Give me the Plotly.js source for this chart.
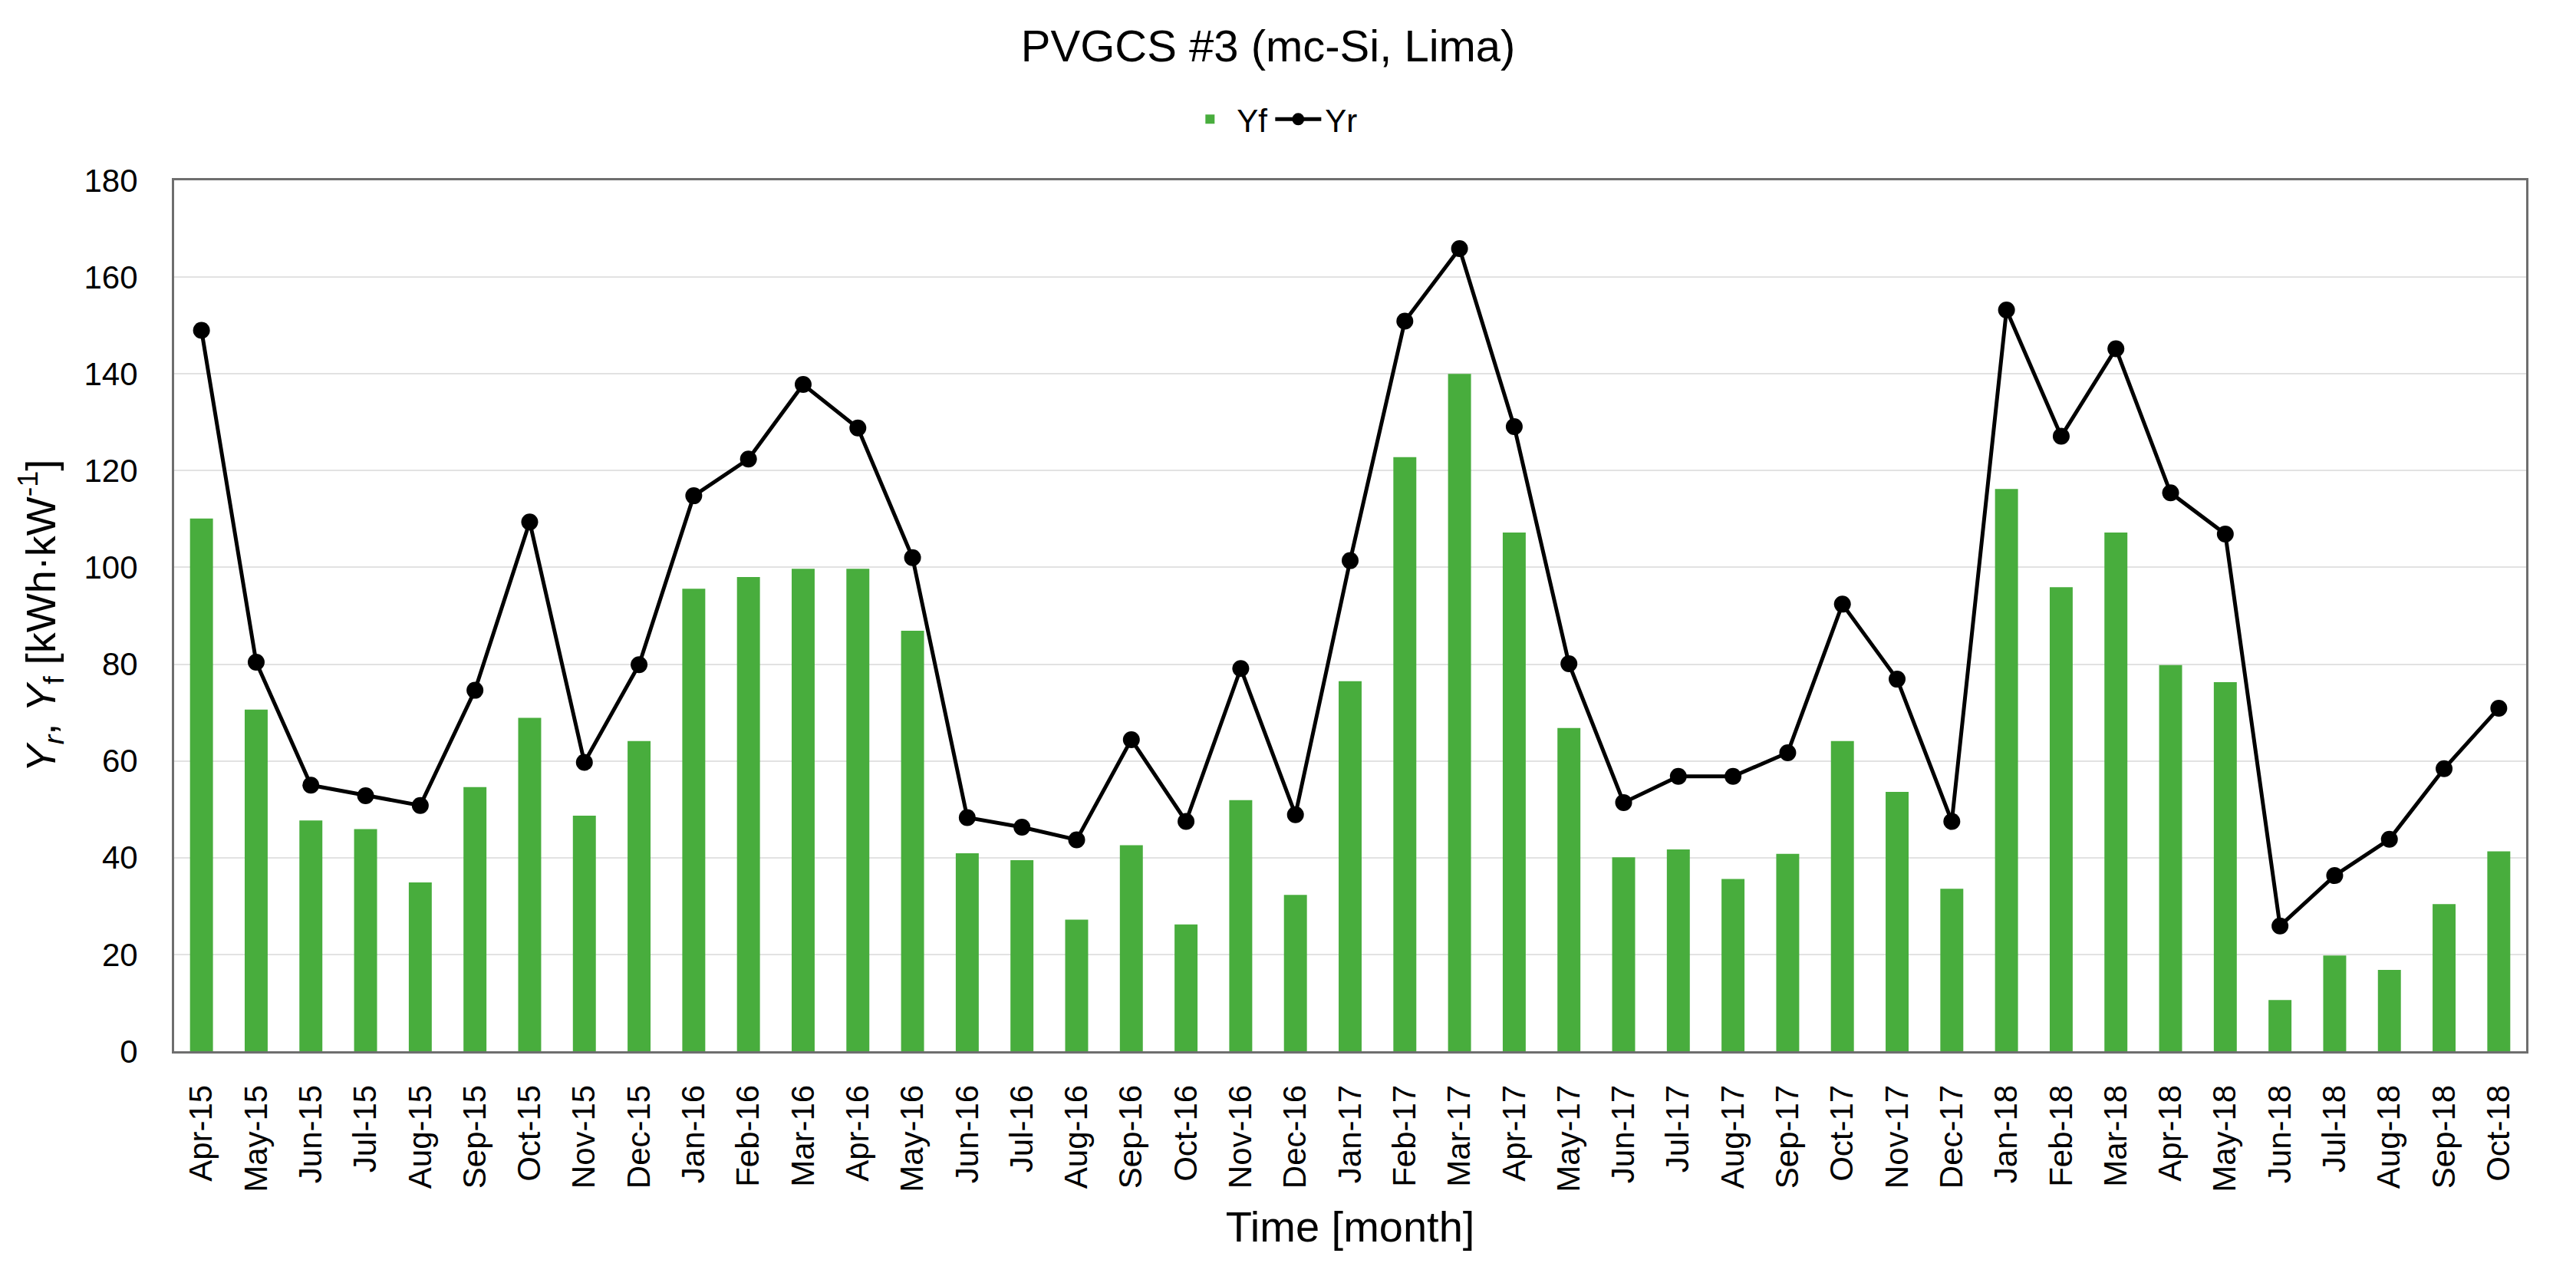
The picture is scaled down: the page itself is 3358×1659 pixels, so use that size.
<!DOCTYPE html>
<html>
<head>
<meta charset="utf-8">
<script src="https://cdn.plot.ly/plotly-3.0.1.min.js"></script>
<style>
  html, body { margin: 0; padding: 0; background: #fff; }
  #chart { width: 3358px; height: 1659px; }
</style>
</head>
<body>
<div id="chart"></div>
<script>
// monthly yields
const months = [
  'Apr-15','May-15','Jun-15','Jul-15','Aug-15','Sep-15','Oct-15','Nov-15','Dec-15',
  'Jan-16','Feb-16','Mar-16','Apr-16','May-16','Jun-16','Jul-16','Aug-16','Sep-16','Oct-16','Nov-16','Dec-16',
  'Jan-17','Feb-17','Mar-17','Apr-17','May-17','Jun-17','Jul-17','Aug-17','Sep-17','Oct-17','Nov-17','Dec-17',
  'Jan-18','Feb-18','Mar-18','Apr-18','May-18','Jun-18','Jul-18','Aug-18','Sep-18','Oct-18'
];

const yf = [
  110.1, 70.6, 47.7, 45.9, 34.9, 54.6, 68.9, 48.7, 64.1,
  95.6, 98.0, 99.7, 99.7, 86.9, 40.9, 39.5, 27.2, 42.6, 26.2, 51.9, 32.3,
  76.5, 122.8, 140.0, 107.2, 66.8, 40.1, 41.7, 35.6, 40.8, 64.1, 53.6, 33.6,
  116.2, 95.9, 107.2, 79.8, 76.3, 10.6, 19.8, 16.8, 30.4, 41.3
];

const yr = [
  149.0, 80.4, 55.0, 52.8, 50.8, 74.6, 109.4, 59.7, 79.9,
  114.8, 122.4, 137.8, 128.8, 102.0, 48.3, 46.3, 43.7, 64.4, 47.5, 79.1, 48.9,
  101.4, 150.9, 165.9, 129.1, 80.1, 51.4, 56.8, 56.8, 61.7, 92.4, 76.9, 47.5,
  153.2, 127.1, 145.2, 115.4, 106.9, 25.9, 36.3, 43.8, 58.4, 70.9
];

const font = 'Liberation Sans, Arial, sans-serif';

let traceYf = {
  x: months,
  y: yf,
  name: 'Yf',
  type: 'bar',
  marker: { color: '#48ad3d' }
};

let traceYr = {
  x: months,
  y: yr,
  name: 'Yr',
  type: 'scatter',
  mode: 'lines+markers',
  line: { color: '#000000', width: 5 },
  marker: { color: '#000000', size: 22 }
};

let layout = {
  width: 3358,
  height: 1659,
  paper_bgcolor: '#ffffff',
  plot_bgcolor: '#ffffff',
  font: { family: font, color: '#000000', size: 42 },
  margin: { l: 227, r: 65, t: 235, b: 289 },
  bargap: 0.58,
  showlegend: true,
  title: {
    text: 'PVGCS #3 (mc-Si, Lima)',
    font: { family: font, size: 58, color: '#000000' },
    x: 0.4923,
    xanchor: 'center',
    yref: 'container',
    y: 0.964,
    yanchor: 'middle'
  },
  legend: {
    orientation: 'h',
    x: 0.467,
    xanchor: 'center',
    y: 1.07,
    yanchor: 'middle',
    font: { family: font, size: 42, color: '#000000' },
    itemwidth: 60,
    traceorder: 'normal'
  },
  xaxis: {
    type: 'category',
    range: [-0.5, months.length - 0.5],
    tickangle: -90,
    tickfont: { family: font, size: 42, color: '#000000' },
    ticks: 'outside',
    ticklen: 24,
    tickcolor: 'rgba(0,0,0,0)',
    showline: true,
    linecolor: '#6e6e6e',
    linewidth: 3,
    mirror: true,
    showgrid: false,
    title: {
      text: 'Time [month]',
      font: { family: font, size: 56, color: '#000000' },
      standoff: 26
    }
  },
  yaxis: {
    range: [0, 180],
    dtick: 20,
    tickfont: { family: font, size: 42, color: '#000000' },
    ticks: 'outside',
    ticklen: 36,
    tickcolor: 'rgba(0,0,0,0)',
    showline: true,
    linecolor: '#6e6e6e',
    linewidth: 3,
    mirror: true,
    showgrid: true,
    gridcolor: '#e2e2e2',
    gridwidth: 2,
    zeroline: false,
    title: {
      text: '<i>Y</i><sub><i>r</i></sub>, <i>Y</i><sub>f</sub> [kWh·kW<sup>-1</sup>]',
      font: { family: font, size: 54, color: '#000000' },
      standoff: 20
    }
  }
};

let config = { displayModeBar: false, staticPlot: true };

Plotly.newPlot('chart', [traceYf, traceYr], layout, config);
</script>
</body>
</html>
